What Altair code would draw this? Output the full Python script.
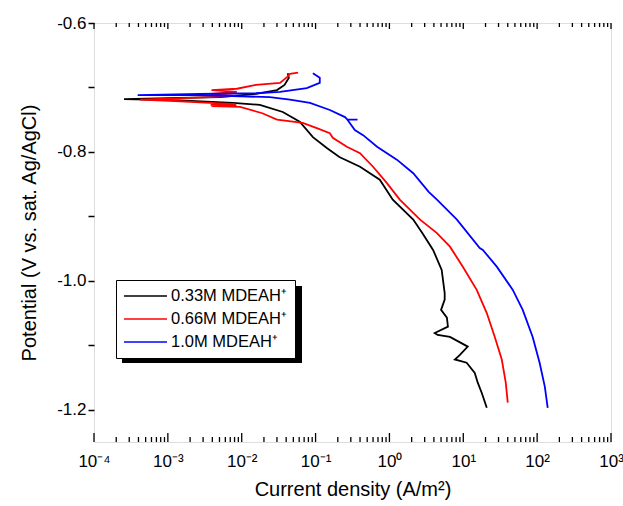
import altair as alt
import pandas as pd

# ---------------- data ----------------
series_names = ["0.33M MDEAH\u207a", "0.66M MDEAH\u207a", "1.0M MDEAH\u207a"]
series_colors = ["#000000", "#ff0000", "#0000ff"]

# 0.33M : sweep from cathodic end up through Ecorr to anodic end
black_current = [20.8, 17.8, 15.7, 14.3, 11.1, 7.7, 9.0, 11.5, 6.6, 4.5, 4.1, 6.2, 6.0, 5.0,
                 5.6, 5.6, 5.1, 3.9, 2.8, 2.1, 1.11, 0.74, 0.40, 0.21, 0.142, 0.092, 0.061,
                 0.036, 0.0176, 0.0076, 0.00146, 0.000255, 0.00146, 0.0051, 0.0156, 0.030,
                 0.038, 0.0435, 0.042]
black_potential = [-1.197, -1.174, -1.158, -1.143, -1.127, -1.122, -1.115, -1.102, -1.087,
                   -1.084, -1.081, -1.071, -1.057, -1.045, -1.029, -1.019, -0.983, -0.952,
                   -0.926, -0.905, -0.874, -0.843, -0.823, -0.808, -0.794, -0.777, -0.753,
                   -0.738, -0.727, -0.724, -0.720, -0.718, -0.716, -0.715, -0.710, -0.704,
                   -0.696, -0.685, -0.678]

# 0.66M
red_current = [40.0, 37.6, 33.2, 26.7, 20.8, 15.2, 9.85, 6.6, 4.4, 2.6, 1.38, 0.92, 0.60, 0.40,
               0.265, 0.171, 0.156, 0.104, 0.067, 0.030, 0.019, 0.0095, 0.0039, 0.0085, 0.0038,
               0.0083, 0.0037, 0.00125, 0.00042, 0.00125, 0.0037, 0.0083, 0.0038, 0.0086,
               0.0039, 0.0086, 0.0156, 0.033, 0.041, 0.045, 0.058]
red_potential = [-1.189, -1.158, -1.122, -1.087, -1.050, -1.014, -0.978, -0.947, -0.926, -0.905,
                 -0.874, -0.848, -0.823, -0.802, -0.792, -0.778, -0.771, -0.763, -0.755, -0.750,
                 -0.740, -0.730, -0.729, -0.728, -0.727, -0.726, -0.724, -0.721, -0.719, -0.717,
                 -0.715, -0.713, -0.710, -0.707, -0.704, -0.702, -0.696, -0.693, -0.684, -0.679,
                 -0.677]

# 1.0M
blue_current = [139, 127, 108, 87, 63.8, 46.8, 28.4, 18.4, 16.7, 8.2, 4.4, 3.4, 2.1, 1.26, 0.68,
                0.44, 0.34, 0.27, 0.37, 0.27, 0.25, 0.156, 0.084, 0.045, 0.024, 0.0027, 0.00039,
                0.0027, 0.0156, 0.033, 0.076, 0.114, 0.114, 0.092]
blue_potential = [-1.197, -1.164, -1.127, -1.087, -1.045, -1.014, -0.978, -0.952, -0.949, -0.905,
                  -0.874, -0.862, -0.833, -0.812, -0.792, -0.774, -0.766, -0.750, -0.750, -0.750,
                  -0.746, -0.735, -0.724, -0.719, -0.715, -0.712, -0.712, -0.710, -0.709, -0.707,
                  -0.701, -0.693, -0.685, -0.678]

x_decades = [1e-4, 1e-3, 1e-2, 1e-1, 1e0, 1e1, 1e2, 1e3]
x_labels = ["10\u207b\u2074", "10\u207b\u00b3", "10\u207b\u00b2", "10\u207b\u00b9",
            "10\u2070", "10\u00b9", "10\u00b2", "10\u00b3"]
x_minor = [k * d for d in x_decades[:-1] for k in range(2, 10)]
y_ticks = [-1.2, -1.1, -1.0, -0.9, -0.8, -0.7, -0.6]
y_labeled = ["-1.2", "", "-1.0", "", "-0.8", "", "-0.6"]

# ---------------- tables ----------------
rows = []
for name, xs, ys in zip(series_names,
                        [black_current, red_current, blue_current],
                        [black_potential, red_potential, blue_potential]):
    for i, (xv, yv) in enumerate(zip(xs, ys)):
        rows.append({"series": name, "current": xv, "potential": yv, "i": i})
df = pd.DataFrame(rows)
major_df = pd.DataFrame({"current": x_decades})
minor_df = pd.DataFrame({"current": x_minor})

W, H = 517, 419
FONT = "Liberation Sans"

x_scale = alt.Scale(type="log", domain=[1e-4, 1e3], nice=False)
y_scale = alt.Scale(domain=[-1.25, -0.6], nice=False, zero=False)

x_label_expr = "[" + ",".join("'%s'" % s for s in x_labels) + "][round(log(datum.value)/LN10)+4]"
y_label_expr = "[" + ",".join("'%s'" % s for s in y_labeled) + "][round(datum.value*10)+12]"

x_axis = alt.Axis(values=x_decades, labelExpr=x_label_expr, ticks=False, domain=False,
                  grid=False, labelPadding=11, labelFontSize=17, labelFont=FONT,
                  labelColor="black", title="Current density (A/m\u00b2)",
                  titleFont=FONT, titleFontSize=20, titleFontWeight="normal",
                  titleColor="black", titlePadding=10, labelFlush=False)
y_axis = alt.Axis(values=y_ticks, labelExpr=y_label_expr, tickSize=6, tickWidth=1.5,
                  tickColor="black", domain=False, grid=False, labelPadding=2,
                  labelFontSize=17, labelFont=FONT, labelColor="black",
                  title="Potential (V vs. sat. Ag/AgCl)", titleFont=FONT,
                  titleFontSize=20, titleFontWeight="normal", titleColor="black",
                  titlePadding=17)

lines = alt.Chart(df).mark_line(strokeWidth=1.8, clip=True).encode(
    x=alt.X("current:Q", scale=x_scale, axis=x_axis),
    y=alt.Y("potential:Q", scale=y_scale, axis=y_axis),
    color=alt.Color("series:N",
                    scale=alt.Scale(domain=series_names, range=series_colors),
                    sort=series_names,
                    legend=alt.Legend(orient="none", legendX=22, legendY=257, title=None,
                                      fillColor="white", strokeColor="black", padding=7,
                                      symbolType="stroke", symbolSize=1849,
                                      symbolStrokeWidth=1.5, clipHeight=18, rowPadding=5,
                                      labelOffset=3, labelFontSize=16.5, labelFont=FONT,
                                      labelColor="black", labelLimit=300)),
    order=alt.Order("i:Q"),
)

shadow = alt.Chart(major_df).mark_rect(color="black").encode(
    x=alt.value(28), x2=alt.value(208), y=alt.value(263), y2=alt.value(340))

bottom_major = alt.Chart(major_df).mark_rule(color="black", strokeWidth=1.3).encode(
    x=alt.X("current:Q", scale=x_scale, axis=x_axis), y=alt.value(H), y2=alt.value(H - 9))
bottom_minor = alt.Chart(minor_df).mark_rule(color="black", strokeWidth=1.3).encode(
    x=alt.X("current:Q", scale=x_scale, axis=x_axis), y=alt.value(H), y2=alt.value(H - 5))
top_major = alt.Chart(major_df).mark_rule(color="black", strokeWidth=1.3).encode(
    x=alt.X("current:Q", scale=x_scale, axis=x_axis), y=alt.value(0), y2=alt.value(6))
top_minor = alt.Chart(minor_df).mark_rule(color="black", strokeWidth=1.3).encode(
    x=alt.X("current:Q", scale=x_scale, axis=x_axis), y=alt.value(0), y2=alt.value(4))

chart = alt.layer(lines, shadow, bottom_major, bottom_minor, top_major, top_minor).properties(
    width=W, height=H,
    autosize=alt.AutoSizeParams(type="none"),
    padding={"left": 94, "top": 23, "right": 12, "bottom": 64},
).configure_view(stroke="black", strokeWidth=2).configure(background="white")

chart.save("out.html", embed_options={"renderer": "svg", "actions": False})
